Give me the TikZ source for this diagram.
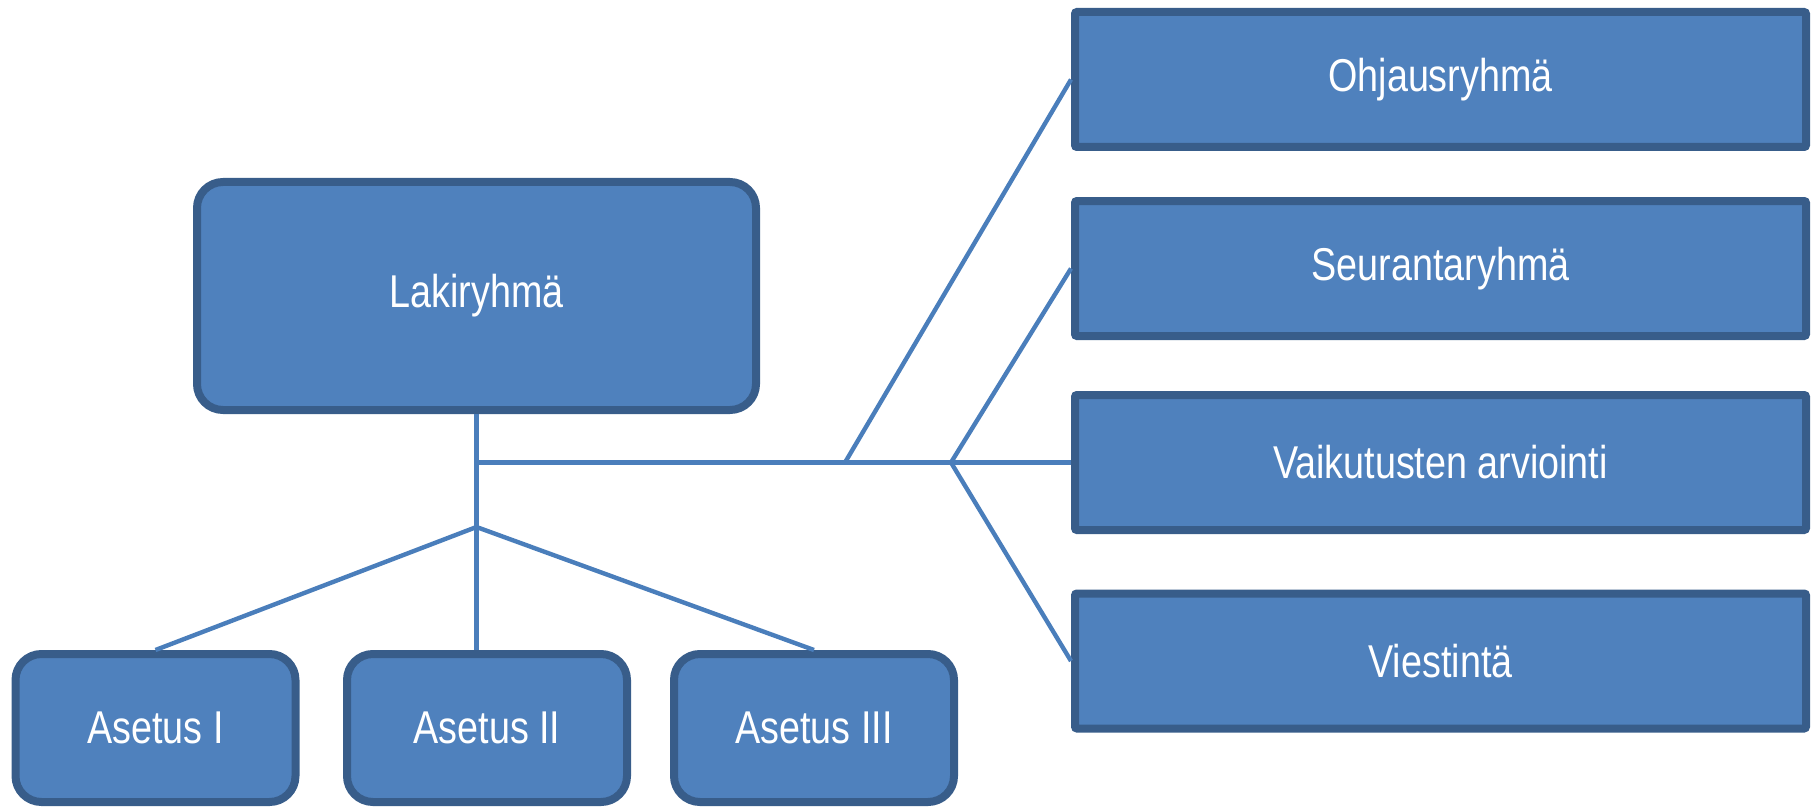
\documentclass[tikz,border=0pt]{standalone}
\usepackage{fontspec}
\setmainfont{Liberation Sans}
\usepackage{graphicx}
\definecolor{boxfill}{HTML}{4F81BD}
\definecolor{boxline}{HTML}{385D8A}
\definecolor{connblue}{HTML}{4A7EBB}
\newcommand\narrowtext[1]{\scalebox{0.82}[1]{#1}}
\begin{document}
\begin{tikzpicture}[x=0.5pt,y=-0.5pt,
  box/.style={draw=boxline, fill=boxfill, line width=4pt, text=white,
    font=\fontsize{23}{27}\selectfont, inner sep=0pt, align=center},
  roundbox/.style={box, rounded corners=13pt},
  asbox/.style={roundbox, minimum width=140pt, minimum height=74pt},
  sidebox/.style={box, rounded corners=1pt, minimum width=365.5pt, minimum height=67.5pt},
  link/.style={draw=connblue, line width=2.2pt}
]
\useasboundingbox (0,0) rectangle (1816,808);
% main box
\node[roundbox, minimum width=279.5pt, minimum height=114pt] (lak) at (476.5,296) {\narrowtext{Lakiryhmä}};
% lower boxes
\node[asbox] (as1) at (155.5,728) {\narrowtext{Asetus I}};
\node[asbox] (as2) at (487,728) {\narrowtext{Asetus II}};
\node[asbox] (as3) at (814,728) {\narrowtext{Asetus III}};
% side boxes
\node[sidebox] (ohj) at (1440.5,79.5) {\narrowtext{Ohjausryhmä}};
\node[sidebox] (seu) at (1440.5,268.5) {\narrowtext{Seurantaryhmä}};
\node[sidebox] (vai) at (1440.5,462.5) {\narrowtext{Vaikutusten arviointi}};
\node[sidebox] (vie) at (1440.5,661) {\narrowtext{Viestintä}};
% connector points
\coordinate (top) at (lak.south);
\coordinate (hj) at (top |- vai.west);
\coordinate (lowj) at (top |- 0,527);
\coordinate (b1) at (845,0 |- vai.west);
\coordinate (b2) at (951,0 |- vai.west);
% connectors
\draw[link] (top) -- (top |- as2.north);
\draw[link] (hj) -- (vai.west);
\draw[link] (lowj) -- (as1.north);
\draw[link] (lowj) -- (as3.north);
\draw[link] (b1) -- (ohj.west);
\draw[link] (b2) -- (seu.west);
\draw[link] (b2) -- (vie.west);
\end{tikzpicture}
\end{document}
